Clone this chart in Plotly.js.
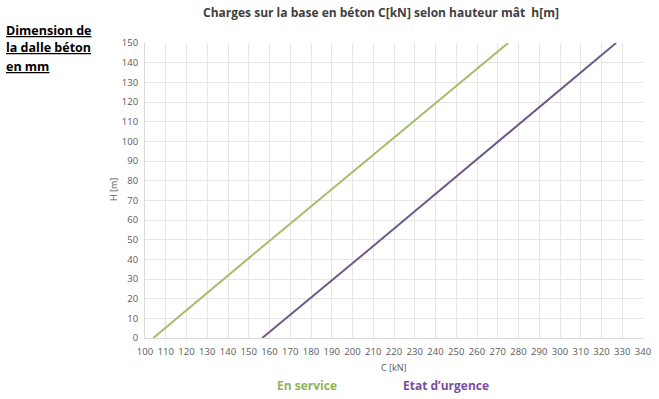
<!DOCTYPE html>
<html>
<head>
<meta charset="utf-8">
<script src="https://cdn.plot.ly/plotly-3.0.1.min.js"></script>
<style>html,body{margin:0;padding:0;background:#fff;}#chart{width:659px;height:399px;}</style>
</head>
<body>
<div id="chart"></div>
<script>
// Data
const hauteur = [0, 45, 150];              // H [m]
const chargeService = [104, 155, 275];     // C [kN], En service
const chargeUrgence = [156.5, 208, 327];   // C [kN], Etat d'urgence
const xTicks = [100,110,120,130,140,150,160,170,180,190,200,210,220,230,240,250,260,270,280,290,300,310,320,330,340];
const yTicks = [0,10,20,30,40,50,60,70,80,90,100,110,120,130,140,150];
const sideLines = ['Dimension de', 'la dalle béton', 'en mm'];

const L = 145, R = 643, T = 43, B = 338, W = 659, H = 399;
const px = x => (x - L) / (R - L);
const py = y => (B - y) / (B - T);

const font = "Open Sans, Liberation Sans, sans-serif";

const traces = [
  {x: chargeService, y: hauteur, mode: 'lines', line: {color: '#a4bd6a', width: 2}, name: 'En service'},
  {x: chargeUrgence, y: hauteur, mode: 'lines', line: {color: '#6f5a8a', width: 2}, name: "Etat d'urgence"}
];

const annotations = [
  {text: '<b>Charges sur la base en béton C[kN] selon hauteur mât  h[m]</b>', xref: 'paper', yref: 'paper',
   x: px(381), y: py(12), xanchor: 'center', yanchor: 'middle', showarrow: false,
   font: {family: font, size: 12, color: '#404040'}},
  {text: 'H [m]', xref: 'paper', yref: 'paper', x: px(113), y: py(190), xanchor: 'center', yanchor: 'middle',
   textangle: -90, showarrow: false, font: {family: font, size: 9, color: '#595959'}},
  {text: 'C [kN]', xref: 'paper', yref: 'paper', x: px(393), y: py(367), xanchor: 'center', yanchor: 'middle',
   showarrow: false, font: {family: font, size: 9, color: '#595959'}},
  {text: '<b>En service</b>', xref: 'paper', yref: 'paper', x: px(307), y: py(385), xanchor: 'center', yanchor: 'middle',
   showarrow: false, font: {family: font, size: 12, color: '#8fb356'}},
  {text: '<b>Etat d’urgence</b>', xref: 'paper', yref: 'paper', x: px(446), y: py(385), xanchor: 'center', yanchor: 'middle',
   showarrow: false, font: {family: font, size: 12, color: '#7a4f9f'}}
];
sideLines.forEach((t, i) => annotations.push({
  text: '<b><u>' + t + '</u></b>', xref: 'paper', yref: 'paper',
  x: px(4), y: py(30 + i * 18), xanchor: 'left', yanchor: 'middle', align: 'left', showarrow: false,
  font: {family: font, size: 12.5, color: '#000000'}
}));

const layout = {
  width: W, height: H,
  margin: {l: L, r: W - R, t: T, b: H - B},
  paper_bgcolor: '#fff', plot_bgcolor: '#fff',
  showlegend: false,
  font: {family: font, color: '#595959', size: 9},
  xaxis: {
    range: [100, 340], tickvals: xTicks, ticktext: xTicks.map(String),
    showgrid: true, gridcolor: '#e6e6e6', gridwidth: 1,
    zeroline: false, showline: true, linecolor: '#d9d9d9', linewidth: 1,
    ticks: '', ticklabelstandoff: 5, tickfont: {size: 9.5, color: '#595959'}, fixedrange: true
  },
  yaxis: {
    range: [0, 150], tickvals: yTicks, ticktext: yTicks.map(String),
    showgrid: true, gridcolor: '#e6e6e6', gridwidth: 1,
    zeroline: false, showline: true, linecolor: '#d9d9d9', linewidth: 1,
    ticks: '', ticklabelstandoff: 4, tickfont: {size: 9.5, color: '#595959'}, fixedrange: true
  },
  annotations: annotations
};

Plotly.newPlot('chart', traces, layout, {displayModeBar: false, staticPlot: true});
</script>
</body>
</html>
